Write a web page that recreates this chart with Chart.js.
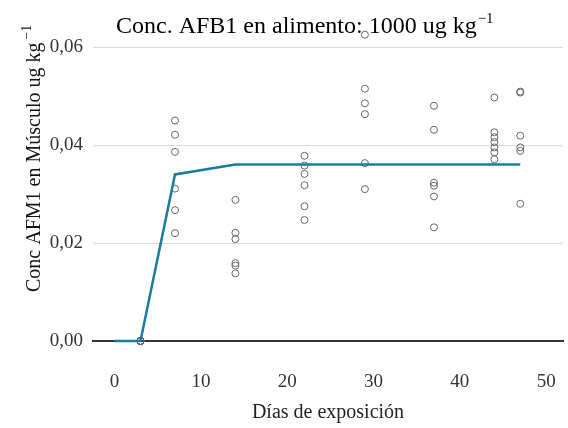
<!DOCTYPE html>
<html>
<head>
<meta charset="utf-8">
<script src="https://cdn.jsdelivr.net/npm/chart.js@4"></script>
<style>
  html, body { margin: 0; padding: 0; background: #fff; overflow: hidden; }
  #wrap { position: relative; width: 568px; height: 428px; }
  #chart { display: block; }
</style>
</head>
<body>
<div id="wrap"><canvas id="chart"></canvas></div>
<script>
// muestras individuales por día de exposición
const sampleDays = [3, 7, 14, 22, 29, 37, 44, 47];
const sampleValues = [
  [0, 0, 0, 0, 0, 0],
  [0.0450, 0.0421, 0.0386, 0.0311, 0.0267, 0.0220],
  [0.0288, 0.0221, 0.0208, 0.0159, 0.0154, 0.0138],
  [0.0378, 0.0358, 0.0341, 0.0318, 0.0275, 0.0247],
  [0.0625, 0.0515, 0.0485, 0.0463, 0.0363, 0.0310],
  [0.0480, 0.0431, 0.0323, 0.0317, 0.0295, 0.0232],
  [0.0497, 0.0426, 0.0416, 0.0406, 0.0395, 0.0385, 0.0371],
  [0.0509, 0.0507, 0.0419, 0.0395, 0.0388, 0.0280]
];

// curva ajustada
const fitDays = [0, 3, 7, 14, 22, 29, 37, 44, 47];
const fitValues = [0, 0, 0.034, 0.036, 0.036, 0.036, 0.036, 0.036, 0.036];

const xTicks = [0, 10, 20, 30, 40, 50];
const yTicks = [0, 0.02, 0.04, 0.06];

const serif = '"Liberation Serif", "Times New Roman", serif';

const points = [];
sampleDays.forEach((d, i) => {
  sampleValues[i].forEach(v => points.push({ x: d, y: v }));
});
const fitLine = fitDays.map((d, i) => ({ x: d, y: fitValues[i] }));

// títulos con superíndice
const titlesPlugin = {
  id: "titles",
  afterDraw(chart) {
    const ctx = chart.ctx;
    ctx.save();
    ctx.fillStyle = "#000";
    ctx.textAlign = "left";
    ctx.textBaseline = "alphabetic";

    ctx.font = "24px " + serif;
    const main = "Conc. AFB1 en alimento: 1000 ug kg";
    ctx.fillText(main, 116, 33);
    const w = ctx.measureText(main).width;
    ctx.font = "15px " + serif;
    ctx.fillText("\u22121", 116 + w + 1, 23);

    ctx.fillStyle = "#111";
    ctx.translate(40, 292);
    ctx.rotate(-Math.PI / 2);
    ctx.font = "20px " + serif;
    const yt = "Conc AFM1 en Músculo ug kg";
    ctx.fillText(yt, 0, 0);
    const w2 = ctx.measureText(yt).width;
    ctx.font = "14px " + serif;
    ctx.fillText("\u22121", w2 + 3, -9);
    ctx.restore();
  }
};

new Chart(document.getElementById("chart"), {
  type: "scatter",
  data: {
    datasets: [
      {
        data: fitLine,
        showLine: true,
        borderColor: "#1b7c9e",
        borderWidth: 2.5,
        pointRadius: 0,
        fill: false,
        clip: false
      },
      {
        data: points,
        pointRadius: 3.5,
        pointBorderWidth: 1,
        pointBorderColor: "#666",
        pointBackgroundColor: "rgba(0,0,0,0)",
        clip: false
      }
    ]
  },
  options: {
    responsive: true,
    maintainAspectRatio: false,
    animation: false,
    // el máximo 0,064 deja sitio al punto de 0,0625 sin mover la línea de 0,06
    layout: { padding: { top: 27.4, left: 0, right: 0, bottom: 0 } },
    plugins: {
      legend: { display: false },
      tooltip: { enabled: false }
    },
    scales: {
      x: {
        type: "linear",
        min: -2.5,
        max: 51.95,
        afterBuildTicks: s => { s.ticks = xTicks.map(v => ({ value: v })); },
        afterFit: s => { s.height = 87; s.paddingLeft = 0; s.paddingRight = 0; },
        grid: { display: false, drawTicks: false },
        border: { display: true, color: "#333", width: 2 },
        ticks: {
          padding: 30,
          color: "#333",
          font: { family: serif, size: 19 }
        },
        title: {
          display: true,
          text: "Días de exposición",
          color: "#222",
          font: { family: serif, size: 20 },
          padding: { top: 0, bottom: 3 }
        }
      },
      y: {
        min: 0,
        max: 0.064,
        afterBuildTicks: s => { s.ticks = yTicks.map(v => ({ value: v })); },
        afterFit: s => { s.width = 93; s.paddingTop = 0; s.paddingBottom = 0; },
        grid: { color: "#d9d9d9", lineWidth: 1, drawTicks: false },
        border: { display: false },
        ticks: {
          padding: 10,
          color: "#333",
          font: { family: serif, size: 19 },
          callback: v => v.toFixed(2).replace(".", ",")
        }
      }
    }
  },
  plugins: [titlesPlugin]
});
</script>
</body>
</html>
